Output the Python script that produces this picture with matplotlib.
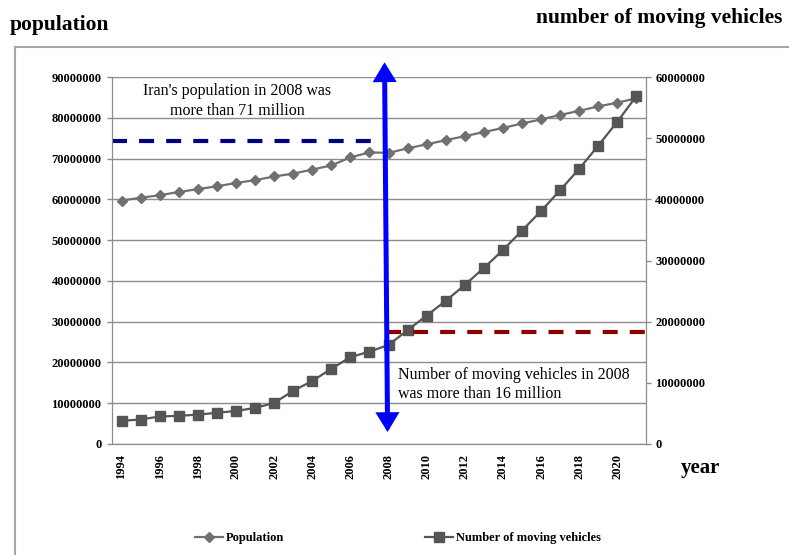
import numpy as np
import matplotlib
matplotlib.use('Agg')
import matplotlib.pyplot as plt
from matplotlib.patches import Rectangle

plt.rcParams['font.family'] = ['Liberation Serif', 'DejaVu Serif']

# data
years = list(range(1994, 2022))
population = [59.7, 60.4, 61.0, 61.8, 62.5, 63.2, 64.0, 64.7, 65.6, 66.3,
              67.3, 68.3, 70.3, 71.5, 71.4, 72.5, 73.5, 74.5, 75.5, 76.5,
              77.5, 78.6, 79.6, 80.7, 81.7, 82.8, 83.7, 84.8]   # millions
vehicles = [3.8, 4.0, 4.5, 4.6, 4.8, 5.1, 5.4, 5.9, 6.7, 8.7,
            10.3, 12.3, 14.2, 15.1, 16.2, 18.6, 21.0, 23.4, 26.0, 28.8,
            31.7, 34.9, 38.1, 41.5, 45.0, 48.8, 52.7, 56.9]        # millions
left_ticks = [0, 10000000, 20000000, 30000000, 40000000, 50000000,
              60000000, 70000000, 80000000, 90000000]
right_ticks = [0, 10000000, 20000000, 30000000, 40000000, 50000000, 60000000]
pop_ref = 74.3e6      # navy dashed line (left axis)
veh_ref = 18.35e6     # dark red dashed line (right axis)

pop = np.array(population) * 1e6
veh = np.array(vehicles) * 1e6
x = np.arange(len(years))

fig = plt.figure(figsize=(7.89, 5.55), dpi=100)
ax = fig.add_axes([112/789, 1-444/555, 534/789, 367/555])
ax2 = ax.twinx()

# outer frame
fig.patches.append(Rectangle((15/789, -0.05), 1.2, 1-47/555+0.05,
                             transform=fig.transFigure, fill=False,
                             edgecolor='#a6a6a6', lw=1.5, clip_on=False))

grid_c = '#8c8c8c'
ax.set_ylim(0, 90000000)
ax2.set_ylim(0, 60000000)
ax.set_xlim(-0.5, len(years)-0.5)
ax.set_yticks(left_ticks)
ax.set_yticklabels([str(t) for t in left_ticks])
ax2.set_yticks(right_ticks)
ax2.set_yticklabels([str(t) for t in right_ticks])
ax.set_xticks(x[::2])
ax.set_xticklabels([str(y) for y in years[::2]], rotation=90)
ax.yaxis.grid(True, color=grid_c, lw=1)
ax.set_axisbelow(True)

for a in (ax, ax2):
    for s in a.spines.values():
        s.set_color(grid_c)
    a.spines['top'].set_visible(False)
ax.tick_params(axis='y', direction='out', length=3.6, width=1, color=grid_c, pad=4)
ax2.tick_params(axis='y', direction='out', length=3.6, width=1, color=grid_c, pad=3)
ax.tick_params(axis='x', length=0, pad=7)
for lab in ax.get_yticklabels() + ax2.get_yticklabels() + ax.get_xticklabels():
    lab.set_fontweight('bold')
    lab.set_fontsize(9)

l1, = ax.plot(x, pop, color='#707070', lw=1.6, marker='D', ms=5.5,
              label='Population', zorder=3)
l2, = ax2.plot(x, veh, color='#555555', lw=1.6, marker='s', ms=6.5,
               label='Number of moving vehicles', zorder=3)

# reference dashed lines
ax.plot([-0.5, 13.56], [pop_ref, pop_ref], color='#000080', lw=3,
        dashes=(3.6, 2.9), zorder=4)
ax2.plot([13.87, 27.5], [veh_ref, veh_ref], color='#8b0000', lw=3,
         dashes=(3.6, 2.9), zorder=4, clip_on=False)

# blue double arrow at 2008
ax2.annotate('', xy=(13.79, 93.6e6*2/3), xytext=(13.95, 2.94e6*2/3),
             arrowprops=dict(arrowstyle='<|-|>,head_length=0.9,head_width=0.55',
                             mutation_scale=10, color='#0000ff', lw=3.6,
                             shrinkA=0, shrinkB=0, joinstyle='miter'),
             annotation_clip=False, zorder=6)

fig.text(237/789, 1-101/555, "Iran's population in 2008 was\nmore than 71 million",
         fontsize=11.5, ha='center', va='center', linespacing=1.3)
fig.text(398/789, 1-384.5/555, "Number of moving vehicles in 2008\nwas more than 16 million",
         fontsize=11.5, ha='left', va='center', linespacing=1.3)

fig.text(10/789, 1-25/555, 'population', fontsize=15.5, fontweight='bold',
         ha='left', va='center')
fig.text(782/789, 1-18/555, 'number of moving vehicles', fontsize=15.5,
         fontweight='bold', ha='right', va='center')
fig.text(700/789, 1-468/555, 'year', fontsize=15, fontweight='bold',
         ha='center', va='center')

leg = fig.legend(handles=[l1, l2], loc='center', ncol=2,
                 bbox_to_anchor=(398/789, 1-538/555), frameon=False,
                 prop={'weight': 'bold', 'size': 9}, handlelength=2.2,
                 handletextpad=0.25, columnspacing=11.3)

fig.savefig('out.png', dpi=100)
